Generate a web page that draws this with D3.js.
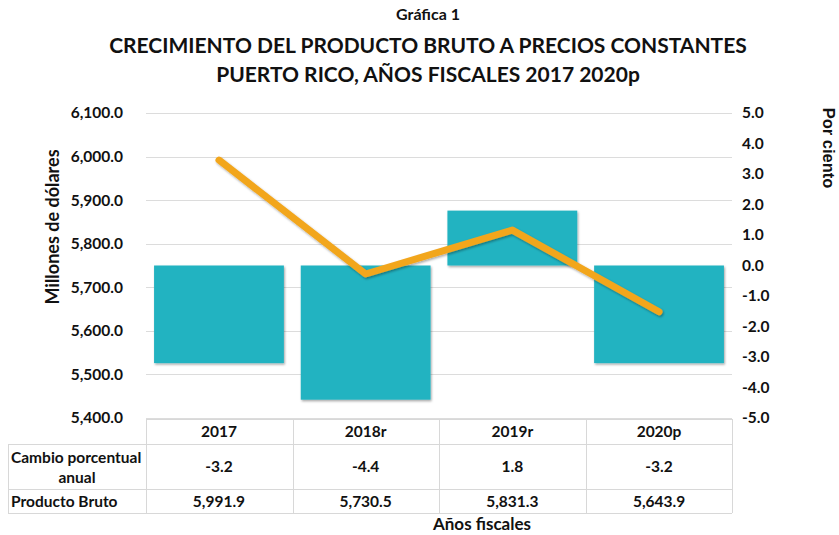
<!DOCTYPE html>
<html>
<head>
<meta charset="utf-8">
<script src="https://cdn.jsdelivr.net/npm/d3@7.9.0/dist/d3.min.js"></script>
<style>
  body { margin: 0; background: #fff; }
  text { font-family: Lato, "Open Sans", sans-serif; font-weight: bold; fill: #111; }
</style>
</head>
<body>
<div id="chart"></div>
<script>
const years = ["2017", "2018r", "2019r", "2020p"];
const pctChange = [-3.2, -4.4, 1.8, -3.2];
const grossProduct = [5991.9, 5730.5, 5831.3, 5643.9];
const leftTicks = [5400, 5500, 5600, 5700, 5800, 5900, 6000, 6100];
const rightTicks = [-5, -4, -3, -2, -1, 0, 1, 2, 3, 4, 5];
const rowLabels = [["Cambio porcentual", "anual"], ["Producto Bruto"]];

const width = 839, height = 535;
const margin = {top: 113, right: 107, bottom: 117, left: 146};

// plain hyphen for negatives, like the source
const loc = d3.formatLocale({decimal: ".", thousands: ",", grouping: [3], currency: ["$", ""], minus: "-"});
const fmtPct = loc.format(".1f");
const fmtMoney = loc.format(",.1f");

const svg = d3.select("#chart").append("svg")
    .attr("width", width)
    .attr("height", height);

const defs = svg.append("defs");
const shadow = defs.append("filter").attr("id", "shadow")
    .attr("x", "-10%").attr("y", "-10%").attr("width", "130%").attr("height", "130%");
shadow.append("feDropShadow")
    .attr("dx", 1).attr("dy", 1.5)
    .attr("stdDeviation", 1.2)
    .attr("flood-color", "#000")
    .attr("flood-opacity", 0.35);

const x = d3.scaleBand()
    .domain(years)
    .range([margin.left, width - margin.right])
    .paddingInner(0.115)
    .paddingOuter(0.055);

const yLeft = d3.scaleLinear()
    .domain([5400, 6100])
    .range([height - margin.bottom, margin.top]);

const yRight = d3.scaleLinear()
    .domain([-5, 5])
    .range([height - margin.bottom, margin.top]);

// titles
svg.append("text")
    .attr("x", 428).attr("y", 20)
    .attr("text-anchor", "middle")
    .style("font-size", "16px")
    .text("Gráfica 1");

svg.append("text")
    .attr("x", 428).attr("y", 53)
    .attr("text-anchor", "middle")
    .style("font-size", "21px")
    .text("CRECIMIENTO DEL PRODUCTO BRUTO A PRECIOS CONSTANTES");

svg.append("text")
    .attr("x", 428).attr("y", 82)
    .attr("text-anchor", "middle")
    .style("font-size", "21px")
    .text("PUERTO RICO, AÑOS FISCALES 2017 2020p");

// gridlines
svg.append("g")
    .selectAll("line")
    .data(leftTicks)
    .join("line")
    .attr("x1", margin.left)
    .attr("x2", width - margin.right)
    .attr("y1", d => Math.round(yLeft(d)) + 0.5)
    .attr("y2", d => Math.round(yLeft(d)) + 0.5)
    .attr("stroke", "#dcdcdc")
    .attr("stroke-width", 1);

// left axis
const leftAxis = svg.append("g")
    .attr("transform", `translate(${margin.left},0)`)
    .call(d3.axisLeft(yLeft).tickValues(leftTicks).tickSize(0).tickPadding(23)
        .tickFormat(fmtMoney));
leftAxis.select(".domain").remove();
leftAxis.selectAll("text")
    .style("font-family", "Lato, sans-serif")
    .style("font-weight", "bold")
    .style("font-size", "15.5px")
    .attr("fill", "#111");

// right axis
const rightAxis = svg.append("g")
    .attr("transform", `translate(${width - margin.right},0)`)
    .call(d3.axisRight(yRight).tickValues(rightTicks).tickSize(0).tickPadding(10)
        .tickFormat(fmtPct));
rightAxis.select(".domain").remove();
rightAxis.selectAll("text")
    .style("font-family", "Lato, sans-serif")
    .style("font-weight", "bold")
    .style("font-size", "15.5px")
    .attr("fill", "#111");

// axis titles
svg.append("text")
    .attr("transform", "translate(59,227) rotate(-90)")
    .attr("text-anchor", "middle")
    .style("font-size", "18px")
    .text("Millones de dólares");

svg.append("text")
    .attr("transform", "translate(823,148) rotate(90)")
    .attr("text-anchor", "middle")
    .style("font-family", "'Liberation Sans', Arial, sans-serif")
    .style("font-size", "16.5px")
    .text("Por ciento");

// bars (percent change, right axis)
svg.append("g")
    .selectAll("rect")
    .data(years.map((yr, i) => ({yr, v: pctChange[i]})))
    .join("rect")
    .attr("x", d => x(d.yr))
    .attr("width", x.bandwidth())
    .attr("y", d => yRight(Math.max(0, d.v)))
    .attr("height", d => Math.abs(yRight(d.v) - yRight(0)))
    .attr("fill", "#23b3c1")
    .attr("filter", "url(#shadow)");

// line (gross product, left axis)
const line = d3.line()
    .x(d => x(d.yr) + x.bandwidth() / 2)
    .y(d => yLeft(d.v));

svg.append("path")
    .datum(years.map((yr, i) => ({yr, v: grossProduct[i]})))
    .attr("d", line)
    .attr("fill", "none")
    .attr("stroke", "#f2a61f")
    .attr("stroke-width", 7)
    .attr("stroke-linecap", "round")
    .attr("stroke-linejoin", "round")
    .attr("filter", "url(#shadow)");

// data table
const tableTop = height - margin.bottom + 1;
const rowH = [25, 45, 24];
const rowY = [tableTop, tableTop + rowH[0], tableTop + rowH[0] + rowH[1], tableTop + rowH[0] + rowH[1] + rowH[2]];
const colEdges = [margin.left, ...years.map((yr, i) => x.range()[0] + (x.range()[1] - x.range()[0]) * (i + 1) / years.length)];
const labelLeft = 8;
const table = svg.append("g")
    .attr("stroke", "#d8d8d8")
    .attr("stroke-width", 1)
    .attr("fill", "none");

// horizontal lines
table.append("line").attr("x1", margin.left).attr("x2", colEdges[4]).attr("y1", rowY[0] + 0.5).attr("y2", rowY[0] + 0.5);
[1, 2, 3].forEach(i => {
    table.append("line").attr("x1", labelLeft).attr("x2", colEdges[4])
        .attr("y1", rowY[i] + 0.5).attr("y2", rowY[i] + 0.5);
});
// vertical lines
colEdges.forEach(cx => {
    table.append("line").attr("x1", Math.round(cx) + 0.5).attr("x2", Math.round(cx) + 0.5)
        .attr("y1", rowY[0]).attr("y2", rowY[3]);
});
table.append("line").attr("x1", labelLeft + 0.5).attr("x2", labelLeft + 0.5)
    .attr("y1", rowY[1]).attr("y2", rowY[3]);

const colCenter = yr => x(yr) + x.bandwidth() / 2;

svg.append("g").selectAll("text")
    .data(years)
    .join("text")
    .attr("x", colCenter)
    .attr("y", rowY[0] + 18)
    .attr("text-anchor", "middle")
    .style("font-size", "15.5px")
    .text(d => d);

svg.append("g").selectAll("text")
    .data(years.map((yr, i) => ({yr, v: pctChange[i]})))
    .join("text")
    .attr("x", d => colCenter(d.yr))
    .attr("y", rowY[1] + 28)
    .attr("text-anchor", "middle")
    .style("font-size", "15.5px")
    .text(d => fmtPct(d.v));

svg.append("g").selectAll("text")
    .data(years.map((yr, i) => ({yr, v: grossProduct[i]})))
    .join("text")
    .attr("x", d => colCenter(d.yr))
    .attr("y", rowY[2] + 18)
    .attr("text-anchor", "middle")
    .style("font-size", "15.5px")
    .text(d => fmtMoney(d.v));

svg.append("text")
    .attr("x", 11).attr("y", rowY[1] + 19)
    .style("font-size", "15.5px")
    .text(rowLabels[0][0]);
svg.append("text")
    .attr("x", 77).attr("y", rowY[1] + 39)
    .attr("text-anchor", "middle")
    .style("font-size", "15.5px")
    .text(rowLabels[0][1]);
svg.append("text")
    .attr("x", 11).attr("y", rowY[2] + 18)
    .style("font-size", "15.5px")
    .text(rowLabels[1][0]);

svg.append("text")
    .attr("x", 482).attr("y", 530)
    .attr("text-anchor", "middle")
    .style("font-size", "17px")
    .text("Años fiscales");
</script>
</body>
</html>
